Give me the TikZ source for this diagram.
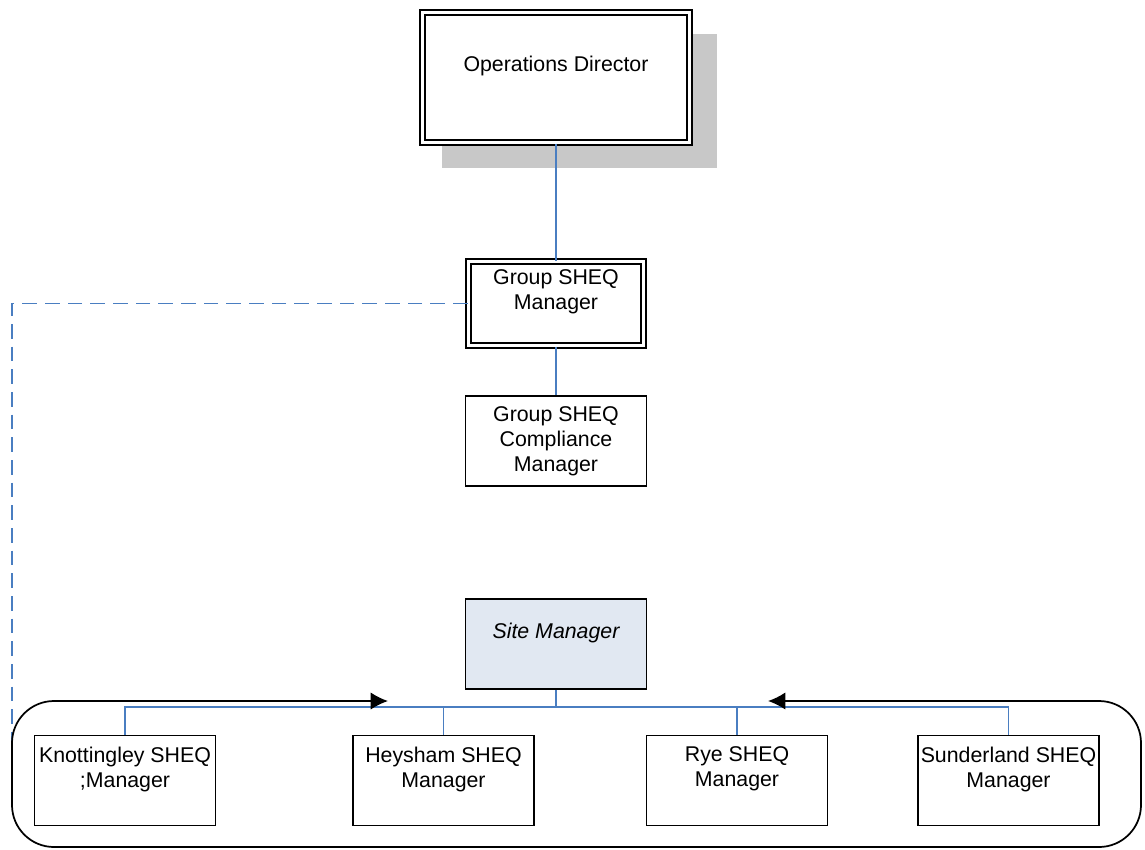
\documentclass[tikz,border=0pt]{standalone}
\usepackage{fontspec}
\setmainfont{Liberation Sans}
\usepackage{tikz}
\usetikzlibrary{arrows.meta, calc, shadows, positioning}

\definecolor{linkblue}{RGB}{74,126,193}
\definecolor{shadowgray}{RGB}{200,200,200}
\definecolor{sitefill}{RGB}{225,232,242}

\tikzset{
  box/.style={draw, line width=1.2pt, minimum width=135.75pt, minimum height=67.5pt,
    inner sep=0pt, align=center, font=\fontsize{16}{18.75}\selectfont},
  dbox/.style={box, double, line width=1.5pt, double distance=1.9pt},
  link/.style={draw=linkblue, line width=1.4pt},
  dashlink/.style={link, dash pattern=on 11pt off 6pt},
  frame/.style={line width=1.3pt, rounded corners=31.5pt,
    {Latex[length=13pt,width=13pt]}-{Latex[length=13pt,width=13pt]}}
}

\begin{document}
\begin{tikzpicture}[x=0.75pt,y=-0.75pt]
\useasboundingbox (0,0) rectangle (1145,849);

% boxes
\node[dbox, minimum width=200.25pt, minimum height=97.5pt, fill=white,
  general shadow={fill=shadowgray, shadow xshift=17.25pt, shadow yshift=-16.9pt, shadow scale=1.03}]
  (od) at (556,77.5) {Operations Director\\[-4pt]\strut};
\node[dbox, minimum width=131.25pt, minimum height=63pt] (gm) at (556,303.5) {Group SHEQ\\Manager\\[-4pt]\strut};
\node[box] (gcm) at (556,441) {Group SHEQ\\Compliance\\Manager};
\node[box, fill=sitefill, font=\fontsize{16}{18.75}\selectfont\itshape] (sm) at (556,644) {Site Manager\\[-4pt]\strut};

\node[box] (km) at (125,780.5) {Knottingley SHEQ\\;Manager\\[-4pt]\strut};
\node[box] (hm) at (443.5,780.5) {Heysham SHEQ\\Manager\\[-4pt]\strut};
\node[box] (rm) at (737,780.5) {Rye SHEQ\\Manager\\[-4pt]\strut};
\node[box] (sdm) at (1008.5,780.5) {Sunderland SHEQ\\Manager\\[-4pt]\strut};

% reporting lines
\draw[link] (od.south) -- (gm.north);
\draw[link] (gm.south) -- (gcm.north);

\coordinate (dashend) at (12,803);
\draw[dashlink] (gm.west) -| (dashend);

\coordinate (bus) at (556,707);
\draw[link] (sm.south) -- (bus);
\draw[link] (km.north) |- (bus) -| (sdm.north);
\draw[link] (hm.north) -- (hm.north |- bus);
\draw[link] (rm.north) -- (rm.north |- bus);

% site group frame
\coordinate (frametipL) at (388,701);
\coordinate (frametipR) at (768,701);
\draw[frame] (frametipL) -| (12,847) -| (1141,701) -- (frametipR);
\end{tikzpicture}
\end{document}
